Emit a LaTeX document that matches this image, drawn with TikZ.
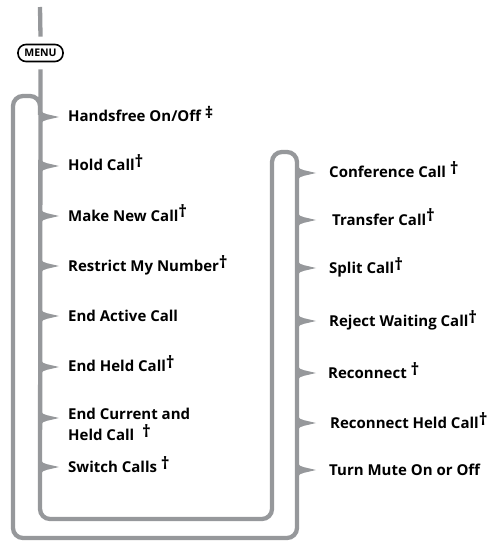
\documentclass[tikz,border=0pt]{standalone}
\usepackage{fontspec}
\setmainfont{Open Sans}
\usetikzlibrary{calc}
\definecolor{lgrey}{RGB}{150,152,155}
\newcommand\dg{\raisebox{3pt}{\fontsize{17}{17}\selectfont †}}
\newcommand\ddg{\raisebox{3pt}{\fontsize{16}{16}\selectfont ‡}}
\tikzset{
  trunk/.style={draw=lgrey, line width=4.3pt},
  lbl/.style={anchor=base west, inner sep=0pt, font=\bfseries\fontsize{15}{21}\selectfont, text=black},
  menubox/.style={draw=black, line width=1.6pt, rounded corners=8pt, minimum width=45pt, minimum height=17pt, inner sep=0pt, font=\bfseries\fontsize{10.5}{10.5}\selectfont},
  br/.pic={\fill[lgrey] (-0.5,-10) .. controls (2,-4) and (4,-3) .. (7,-2.8) -- (19,0) -- (7,2.8) .. controls (4,3) and (2,4) .. (-0.5,10) -- cycle;}
}
\begin{document}
\begin{tikzpicture}[x=1pt,y=-1pt]
\useasboundingbox (0,0) rectangle (494,545);
\node[menubox] (menu) at (40.5,53) {MENU};
\coordinate (top) at (40,7);
\draw[trunk] (top) -- ($(menu.north)+(0,-7)$);
\draw[trunk, rounded corners=10pt] ($(menu.south)+(0,7)$) -- (40,519) -- (272,519) -- (272,152) -- (297,152) -- (297,538) -- (13,538) -- (13,96) -- (40,96) -- (40,115);
% branches
\foreach \y in {117,166,216,266,316,367,418,467} {\pic at (40,\y) {br};}
\foreach \y in {173,220,268,321,373,423,470} {\pic at (297,\y) {br};}
\node[lbl] (l1) at (68,122) {Handsfree On/Off \ddg};
\node[lbl] (l2) at (68,171) {Hold Call\dg};
\node[lbl] (l3) at (68,221) {Make New Call\dg};
\node[lbl] (l4) at (68,271) {Restrict My Number\dg};
\node[lbl] (l5) at (68,321) {End Active Call};
\node[lbl] (l6) at (68,371) {End Held Call\dg};
\node[lbl] (l7) at (68,419) {End Current and};
\node[lbl] (l7b) at (68,440) {Held Call \ \dg};
\node[lbl] (l8) at (68,472) {Switch Calls \dg};
\node[lbl] (r1) at (329,178) {Conference Call \dg};
\node[lbl] (r2) at (332,225) {Transfer Call\dg};
\node[lbl] (r3) at (329,273) {Split Call\dg};
\node[lbl] (r4) at (329,326) {Reject Waiting Call\dg};
\node[lbl] (r5) at (328,378) {Reconnect \dg};
\node[lbl] (r6) at (330,428) {Reconnect Held Call\dg};
\node[lbl] (r7) at (329,475) {Turn Mute On or Off};
\end{tikzpicture}
\end{document}
